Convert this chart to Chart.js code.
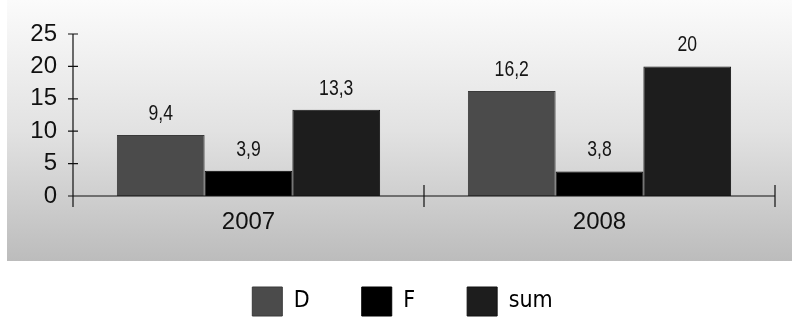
<!DOCTYPE html>
<html>
<head>
<meta charset="utf-8">
<script src="https://cdn.jsdelivr.net/npm/chart.js@4/dist/chart.umd.min.js"></script>
<style>
  html, body { margin: 0; padding: 0; background: #ffffff; }
  #wrap { position: relative; width: 792px; height: 320px; }
  #panel {
    position: absolute; left: 7px; top: 0; width: 785px; height: 261px;
    background: linear-gradient(to bottom, #fbfbfb 0%, #e2e2e2 50%, #bcbcbc 100%);
  }
  #c { position: absolute; left: 0; top: 0; }
</style>
</head>
<body>
<div id="wrap">
  <div id="panel"></div>
  <canvas id="c" width="792" height="320"></canvas>
</div>
<script>
// Years on the category axis
const categories = ['2007', '2008'];
// Series values
const seriesD = [9.4, 16.2];
const seriesF = [3.9, 3.8];
const seriesSum = [13.3, 20];
// Value axis ticks
const yTicks = [0, 5, 10, 15, 20, 25];

const narrowFont = "'Liberation Sans Narrow', 'DejaVu Sans Condensed', 'Liberation Sans', sans-serif";
const axisFont = "'Liberation Sans', Arial, sans-serif";

// Axis lines and tick marks that cross the axes
const axisMarks = {
  id: 'axisMarks',
  afterDraw(chart) {
    const { ctx, scales: { x, y } } = chart;
    ctx.save();
    ctx.strokeStyle = '#111';
    ctx.lineWidth = 1.2;
    const y0 = y.getPixelForValue(0);
    const yTop = y.getPixelForValue(yTicks[yTicks.length - 1]);
    ctx.beginPath();
    // vertical axis
    ctx.moveTo(x.left, yTop);
    ctx.lineTo(x.left, y0 + 11);
    // horizontal axis
    ctx.moveTo(x.left, y0);
    ctx.lineTo(x.right, y0);
    // value ticks
    yTicks.forEach(v => {
      const py = y.getPixelForValue(v);
      ctx.moveTo(x.left - 5, py);
      ctx.lineTo(x.left + 5, py);
    });
    // category boundaries
    for (let i = 1; i <= categories.length; i++) {
      const px = x.getPixelForValue(i - 0.5);
      ctx.moveTo(px, y0 - 11);
      ctx.lineTo(px, y0 + 11);
    }
    ctx.stroke();
    ctx.restore();
  }
};

// Value labels above the bars, decimal comma, narrow lettering
const valueLabels = {
  id: 'valueLabels',
  afterDatasetsDraw(chart) {
    const { ctx } = chart;
    chart.data.datasets.forEach((ds, di) => {
      chart.getDatasetMeta(di).data.forEach((bar, i) => {
        const txt = String(ds.data[i]).replace('.', ',');
        ctx.save();
        ctx.font = '22px ' + axisFont;
        ctx.fillStyle = '#151515';
        ctx.textAlign = 'center';
        ctx.textBaseline = 'middle';
        ctx.translate(bar.x, bar.y - 21);
        ctx.scale(0.8, 1);
        ctx.fillText(txt, 0, 0);
        ctx.restore();
      });
    });
  }
};

new Chart(document.getElementById('c'), {
  type: 'bar',
  data: {
    labels: categories,
    datasets: [
      { label: 'D', data: seriesD, backgroundColor: '#4b4b4b', borderColor: '#3a3a3a', borderWidth: 1 },
      { label: 'F', data: seriesF, backgroundColor: '#000000', borderColor: '#000000', borderWidth: 1 },
      { label: 'sum', data: seriesSum, backgroundColor: '#1d1d1d', borderColor: '#121212', borderWidth: 1 }
    ]
  },
  options: {
    responsive: false,
    animation: false,
    devicePixelRatio: 1,
    layout: { padding: { left: 30, right: 17, top: 34, bottom: 0 } },
    datasets: { bar: { categoryPercentage: 0.75, barPercentage: 1.0 } },
    plugins: {
      legend: {
        position: 'bottom',
        maxHeight: 85,
        labels: {
          boxWidth: 30,
          boxHeight: 29,
          padding: 52,
          color: '#000',
          font: { family: narrowFont, size: 23 }
        }
      },
      tooltip: { enabled: false }
    },
    scales: {
      x: {
        afterFit(scale) { scale.height = 39; },
        grid: { display: false, drawTicks: false },
        border: { display: false },
        ticks: { color: '#111', padding: 12, font: { family: axisFont, size: 24 } }
      },
      y: {
        min: 0,
        max: 25,
        afterFit(scale) { scale.width = 43; },
        afterBuildTicks(scale) { scale.ticks = yTicks.map(v => ({ value: v })); },
        grid: { display: false, drawTicks: false },
        border: { display: false },
        ticks: { color: '#111', padding: 16, autoSkip: false, font: { family: axisFont, size: 24 } }
      }
    }
  },
  plugins: [axisMarks, valueLabels]
});
</script>
</body>
</html>
